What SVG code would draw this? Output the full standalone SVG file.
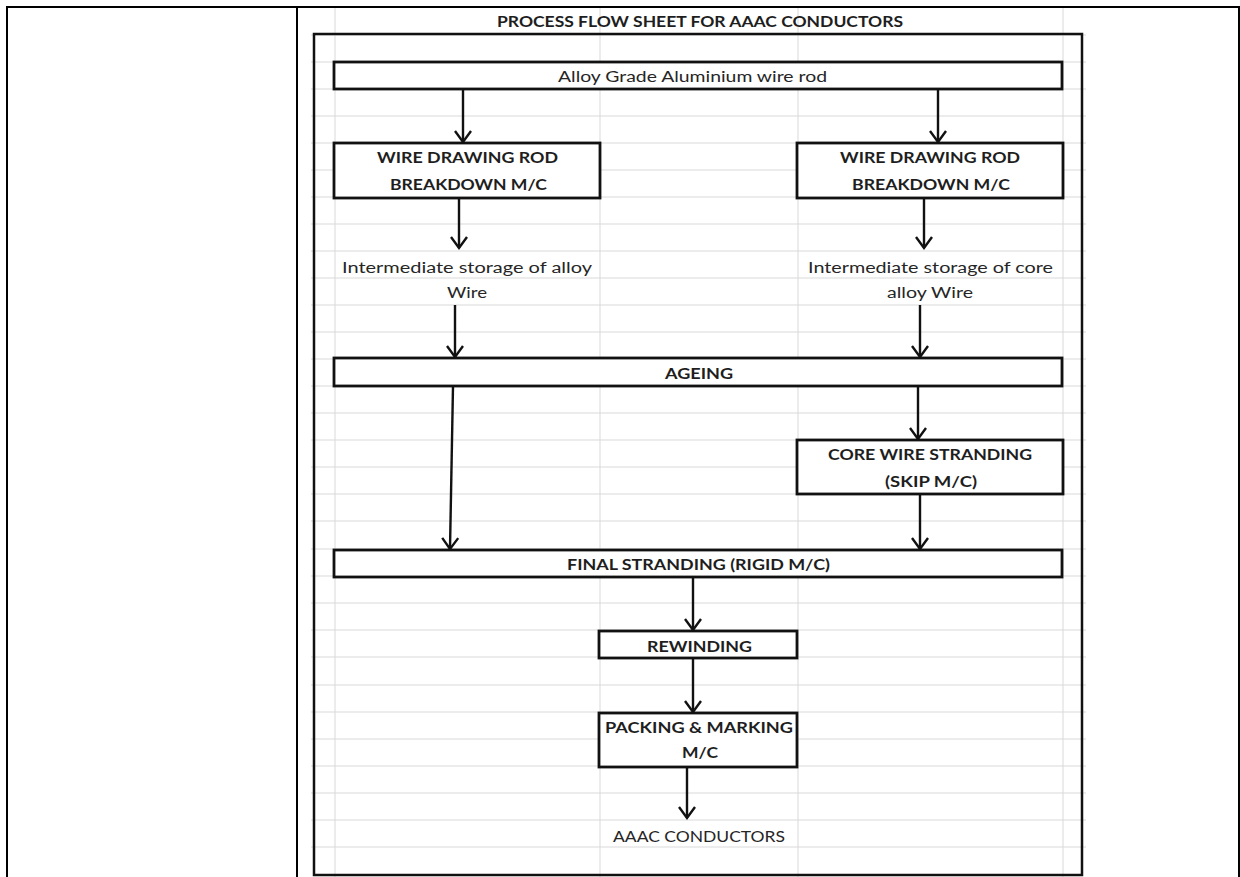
<svg xmlns="http://www.w3.org/2000/svg" width="1240" height="877" viewBox="0 0 1240 877">
<style>
.grid{stroke:#d9d9d9;stroke-width:1;fill:none}
.tbl{stroke:#000;stroke-width:2;fill:none}
.frame{stroke:#111;stroke-width:2.5;fill:none}
.box{stroke:#111;stroke-width:2.8;fill:#fff}
.arr{stroke:#111;stroke-width:2.4;fill:none;marker-end:url(#ah)}
.t{font-family:Lato,"Open Sans","Liberation Sans",sans-serif;font-size:15.5px;fill:#262626}
.b{font-weight:bold;fill:#1e1e1e}
</style>
<defs>
<marker id="ah" markerUnits="userSpaceOnUse" markerWidth="24" markerHeight="24" viewBox="-14 -12 16 24" refX="0" refY="0" orient="auto">
<path d="M-11,-8 L0,0 L-11,8" fill="none" stroke="#111" stroke-width="2.4"/>
</marker>
</defs>
<rect width="1240" height="877" fill="#fff"/>
<g id="table">
<path class="tbl" d="M7,877 V7 H1239 V877 M297,7 V877"/>
</g>
<g id="sheet">
<rect x="311" y="8" width="775" height="869" fill="#fff"/>
<path class="grid" d="M335,8 V877 M600,8 V877 M798,8 V877 M1063,8 V877 M311,35 H1086 M311,62 H1086 M311,89 H1086 M311,116 H1086 M311,143 H1086 M311,170 H1086 M311,197 H1086 M311,224 H1086 M311,251 H1086 M311,278 H1086 M311,305 H1086 M311,332 H1086 M311,359 H1086 M311,386 H1086 M311,413 H1086 M311,440 H1086 M311,467 H1086 M311,494 H1086 M311,521 H1086 M311,549 H1086 M311,576 H1086 M311,603 H1086 M311,630 H1086 M311,657 H1086 M311,685 H1086 M311,712 H1086 M311,739 H1086 M311,766 H1086 M311,793 H1086 M311,820 H1086 M311,847 H1086"/>
<rect class="frame" x="314" y="34" width="768" height="841"/>
<text class="t b" x="497" y="27" font-size="16.5" textLength="406" lengthAdjust="spacingAndGlyphs">PROCESS FLOW SHEET FOR AAAC CONDUCTORS</text>
</g>
<g id="connectors">
<path class="arr" d="M463,89 V142"/>
<path class="arr" d="M938,89 V142"/>
<path class="arr" d="M459,198 V248"/>
<path class="arr" d="M924,198 V248"/>
<path class="arr" d="M455,305 V357"/>
<path class="arr" d="M920,305 V357"/>
<path class="arr" d="M453,386 L450,549"/>
<path class="arr" d="M918,386 V439"/>
<path class="arr" d="M920,494 V549"/>
<path class="arr" d="M693,577 V630"/>
<path class="arr" d="M693,658 V712"/>
<path class="arr" d="M687,767 V818"/>
</g>
<g id="n-rod">
<rect class="box" x="334" y="62" width="728" height="27"/>
<text class="t" x="558" y="82" textLength="269" lengthAdjust="spacingAndGlyphs">Alloy Grade Aluminium wire rod</text>
</g>
<g id="n-wd-left">
<rect class="box" x="334" y="143" width="266" height="55"/>
<text class="t b" x="377" y="163" textLength="181" lengthAdjust="spacingAndGlyphs">WIRE DRAWING ROD</text>
<text class="t b" x="390" y="190" textLength="157" lengthAdjust="spacingAndGlyphs">BREAKDOWN M/C</text>
</g>
<g id="n-wd-right">
<rect class="box" x="797" y="143" width="266" height="55"/>
<text class="t b" x="840" y="163" textLength="180" lengthAdjust="spacingAndGlyphs">WIRE DRAWING ROD</text>
<text class="t b" x="852" y="190" textLength="158" lengthAdjust="spacingAndGlyphs">BREAKDOWN M/C</text>
</g>
<g id="n-store-left">
<text class="t" x="342" y="273" textLength="250" lengthAdjust="spacingAndGlyphs">Intermediate storage of alloy</text>
<text class="t" x="447" y="298" textLength="40" lengthAdjust="spacingAndGlyphs">Wire</text>
</g>
<g id="n-store-right">
<text class="t" x="808" y="273" textLength="245" lengthAdjust="spacingAndGlyphs">Intermediate storage of core</text>
<text class="t" x="887" y="298" textLength="86" lengthAdjust="spacingAndGlyphs">alloy Wire</text>
</g>
<g id="n-ageing">
<rect class="box" x="334" y="358" width="728" height="28"/>
<text class="t b" x="665" y="379" textLength="68" lengthAdjust="spacingAndGlyphs">AGEING</text>
</g>
<g id="n-core">
<rect class="box" x="797" y="440" width="266" height="54"/>
<text class="t b" x="828" y="460" textLength="204" lengthAdjust="spacingAndGlyphs">CORE WIRE STRANDING</text>
<text class="t b" x="885" y="487" textLength="92" lengthAdjust="spacingAndGlyphs">(SKIP M/C)</text>
</g>
<g id="n-final">
<rect class="box" x="334" y="550" width="728" height="27"/>
<text class="t b" x="567" y="570" textLength="263" lengthAdjust="spacingAndGlyphs">FINAL STRANDING (RIGID M/C)</text>
</g>
<g id="n-rewind">
<rect class="box" x="599" y="631" width="198" height="27"/>
<text class="t b" x="647" y="652" textLength="105" lengthAdjust="spacingAndGlyphs">REWINDING</text>
</g>
<g id="n-pack">
<rect class="box" x="599" y="713" width="198" height="54"/>
<text class="t b" x="605" y="733" textLength="188" lengthAdjust="spacingAndGlyphs">PACKING &amp; MARKING</text>
<text class="t b" x="682" y="758" textLength="36" lengthAdjust="spacingAndGlyphs">M/C</text>
</g>
<g id="n-out">
<text class="t" x="613" y="842" textLength="172" lengthAdjust="spacingAndGlyphs">AAAC CONDUCTORS</text>
</g>
</svg>
